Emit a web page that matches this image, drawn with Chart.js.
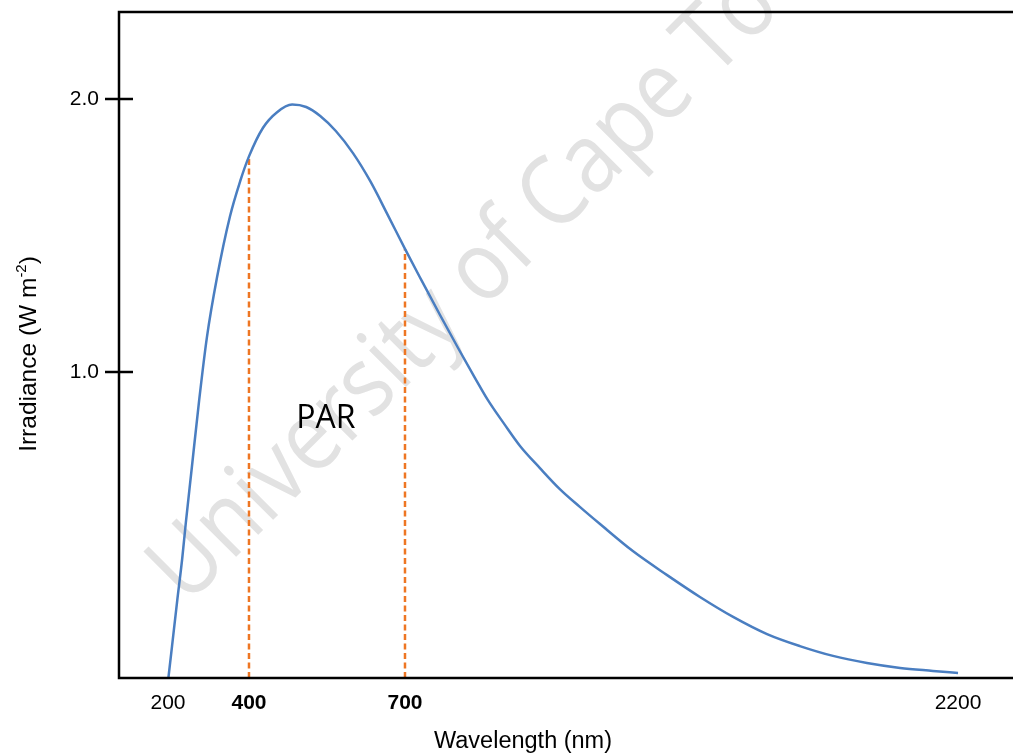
<!DOCTYPE html>
<html>
<head>
<meta charset="utf-8">
<script src="https://cdn.jsdelivr.net/npm/chart.js@4/dist/chart.umd.min.js"></script>
<style>
  html, body { margin: 0; padding: 0; background: #fff; }
  #wrap { width: 1013px; height: 755px; position: relative; }
</style>
</head>
<body>
<div id="wrap"><canvas id="c" width="1013" height="755"></canvas></div>
<script>
// ---- data ----
const wavelengths = [201, 210, 223, 235, 244, 259, 277, 296, 321, 353, 378, 400, 427, 454, 483, 510, 537, 567, 600, 633, 667, 700, 746, 795, 844, 890, 925, 969, 1012, 1066, 1120, 1175, 1229, 1318, 1411, 1500, 1590, 1682, 1771, 1861, 1953, 2043, 2132, 2200];
const irradiance  = [-0.121, -0.004, 0.165, 0.315, 0.447, 0.652, 0.897, 1.126, 1.346, 1.570, 1.698, 1.790, 1.895, 1.952, 1.980, 1.971, 1.938, 1.883, 1.802, 1.700, 1.575, 1.451, 1.333, 1.209, 1.088, 0.978, 0.897, 0.810, 0.729, 0.648, 0.571, 0.505, 0.443, 0.344, 0.256, 0.176, 0.103, 0.040, -0.004, -0.040, -0.066, -0.084, -0.095, -0.103];
const parBounds   = [400, 700];
const parTops     = [1.790, 1.451];
const xTickValues = [200, 400, 700, 2200];
const xTickLabels = ['200', '400', '700', '2200'];
const boldXTicks  = [400, 700];
const yTickValues = [1.0, 2.0];
const yTickLabels = ['1.0', '2.0'];
const yRange      = [-0.121, 2.319];
const parLabel    = { x: 548, y: 0.83, text: 'PAR' };

// The axis of the original drawing is schematic (not linear): anchor wavelengths and
// their relative position along the axis define a piecewise-linear scale.
const scaleAnchors = [[200, 0.0548], [400, 0.1454], [700, 0.3199], [2200, 0.9385]];

function toFrac(v) {
  const a = scaleAnchors;
  let i = 0;
  if (v <= a[0][0]) i = 0;
  else if (v >= a[a.length - 1][0]) i = a.length - 2;
  else { while (i < a.length - 2 && v > a[i + 1][0]) i++; }
  const [v0, f0] = a[i], [v1, f1] = a[i + 1];
  return f0 + (v - v0) * (f1 - f0) / (v1 - v0);
}
function fromFrac(f) {
  const a = scaleAnchors;
  let i = 0;
  if (f <= a[0][1]) i = 0;
  else if (f >= a[a.length - 1][1]) i = a.length - 2;
  else { while (i < a.length - 2 && f > a[i + 1][1]) i++; }
  const [v0, f0] = a[i], [v1, f1] = a[i + 1];
  return v0 + (f - f0) * (v1 - v0) / (f1 - f0);
}

class PiecewiseScale extends Chart.LinearScale {
  getPixelForValue(value) { return this.getPixelForDecimal(toFrac(value)); }
  getValueForPixel(pixel) { return fromFrac(this.getDecimalForPixel(pixel)); }
}
PiecewiseScale.id = 'piecewise';
PiecewiseScale.defaults = Chart.LinearScale.defaults;
Chart.register(PiecewiseScale);

const curve = wavelengths.map((w, i) => ({ x: w, y: irradiance[i] }));
const dashed = parBounds.map((w, i) => ({
  type: 'line',
  data: [{ x: w, y: yRange[0] }, { x: w, y: parTops[i] }],
  borderColor: '#EE7623',
  borderWidth: 2.5,
  borderDash: [6, 3.5],
  pointRadius: 0,
  tension: 0,
  order: 1
}));

const framePlugin = {
  id: 'frame',
  beforeDatasetsDraw(chart) {
    const ctx = chart.ctx;
    ctx.save();
    ctx.translate(187, 606);
    ctx.rotate(-Math.PI / 4);
    ctx.scale(0.88, 1);
    ctx.fillStyle = '#e2e2e2';
    ctx.font = '97px "Open Sans"';
    ctx.textBaseline = 'alphabetic';
    ctx.textAlign = 'left';
    ctx.fillText('University of Cape Town', 0, 0);
    ctx.restore();
  },
  afterDatasetsDraw(chart) {
    const ctx = chart.ctx;
    const ca = chart.chartArea;
    const ys = chart.scales.y, xs = chart.scales.x;
    ctx.save();
    ctx.strokeStyle = '#000';
    ctx.lineWidth = 2.5;
    ctx.beginPath();
    ctx.moveTo(chart.width, ca.top);
    ctx.lineTo(ca.left, ca.top);
    ctx.lineTo(ca.left, ca.bottom);
    ctx.lineTo(chart.width, ca.bottom);
    ctx.stroke();
    yTickValues.forEach(v => {
      const py = Math.round(ys.getPixelForValue(v));
      ctx.beginPath();
      ctx.moveTo(ca.left - 14, py);
      ctx.lineTo(ca.left + 14, py);
      ctx.stroke();
    });
    ctx.fillStyle = '#000';
    ctx.font = '32px "Open Sans"';
    ctx.textAlign = 'center';
    ctx.textBaseline = 'middle';
    ctx.fillText(parLabel.text, xs.getPixelForValue(parLabel.x), ys.getPixelForValue(parLabel.y));
    ctx.font = '23.5px "Liberation Sans", Arial, sans-serif';
    ctx.textBaseline = 'middle';
    ctx.fillText('Wavelength (nm)', 523, 742);
    ctx.translate(27, 354);
    ctx.rotate(-Math.PI / 2);
    const mainFont = '24.5px "Liberation Sans", Arial, sans-serif';
    const supFont = '15px "Liberation Sans", Arial, sans-serif';
    const p1 = 'Irradiance (W m', p2 = '-2', p3 = ')';
    ctx.font = mainFont; const w1 = ctx.measureText(p1).width; const w3 = ctx.measureText(p3).width;
    ctx.font = supFont; const w2 = ctx.measureText(p2).width;
    const x0 = -(w1 + w2 + w3) / 2;
    ctx.textAlign = 'left';
    ctx.textBaseline = 'alphabetic';
    ctx.font = mainFont; ctx.fillText(p1, x0, 9);
    ctx.font = supFont; ctx.fillText(p2, x0 + w1, -1);
    ctx.font = mainFont; ctx.fillText(p3, x0 + w1 + w2, 9);
    ctx.restore();
  }
};

new Chart(document.getElementById('c'), {
  type: 'line',
  data: {
    datasets: [
      {
        data: curve,
        borderColor: '#4A7EC1',
        borderWidth: 2.5,
        pointRadius: 0,
        cubicInterpolationMode: 'monotone',
        order: 0
      },
      ...dashed
    ]
  },
  options: {
    responsive: false,
    animation: false,
    devicePixelRatio: 1,
    layout: { padding: { top: 12, right: 0, left: 0, bottom: 0 } },
    plugins: { legend: { display: false }, tooltip: { enabled: false } },
    scales: {
      x: {
        type: 'piecewise',
        min: 80,
        max: 2340,
        grid: { display: false, drawTicks: false },
        border: { display: false },
        afterBuildTicks: s => { s.ticks = xTickValues.map(v => ({ value: v })); },
        afterFit: s => { s.height = 77; s.paddingLeft = 0; s.paddingRight = 0; },
        ticks: {
          autoSkip: false,
          maxRotation: 0,
          padding: 13,
          color: '#000',
          font: ctx => ({
            family: '"Liberation Sans", Arial, sans-serif',
            size: 21,
            weight: (ctx && ctx.tick && boldXTicks.includes(ctx.tick.value)) ? 'bold' : 'normal'
          }),
          callback: (v) => xTickLabels[xTickValues.indexOf(v)]
        }
      },
      y: {
        type: 'linear',
        min: yRange[0],
        max: yRange[1],
        grid: { display: false, drawTicks: false },
        border: { display: false },
        afterBuildTicks: s => { s.ticks = yTickValues.map(v => ({ value: v })); },
        afterFit: s => { s.width = 119; s.paddingTop = 0; s.paddingBottom = 0; },
        ticks: {
          autoSkip: false,
          padding: 20,
          color: '#000',
          font: { family: '"Liberation Sans", Arial, sans-serif', size: 21 },
          callback: (v) => yTickLabels[yTickValues.indexOf(v)]
        }
      }
    }
  },
  plugins: [framePlugin]
});
</script>
</body>
</html>
